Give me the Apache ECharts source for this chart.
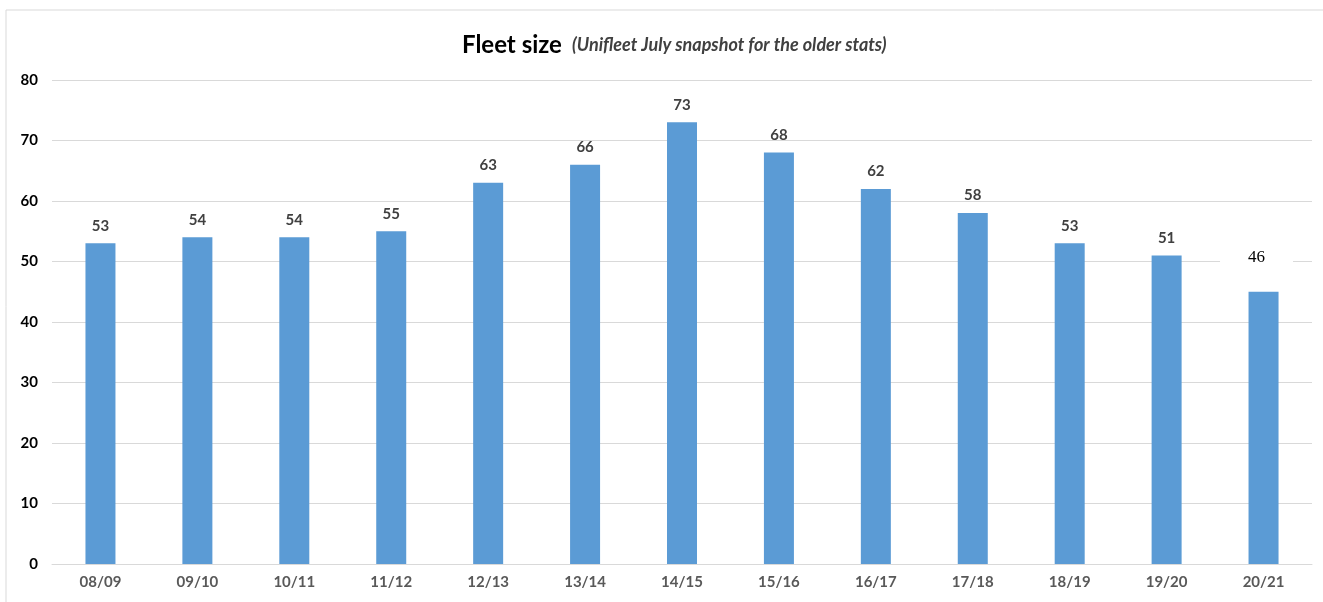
<!DOCTYPE html>
<html><head><meta charset="utf-8">
<script src="https://cdn.jsdelivr.net/npm/echarts@6/dist/echarts.min.js"></script>
<style>html,body{margin:0;padding:0;background:#fff}#c{width:1323px;height:602px}</style>
</head><body><div id="c"></div>
<script>
const categories = ['08/09','09/10','10/11','11/12','12/13','13/14','14/15','15/16','16/17','17/18','18/19','19/20','20/21'];
const fleetSize = [53,54,54,55,63,66,73,68,62,58,53,51,45];
const barLabels = ['53','54','54','55','63','66','73','68','62','58','53','51','46'];
const yTicks = [0,10,20,30,40,50,60,70,80];

const chart = echarts.init(document.getElementById('c'));
const font = 'Lato, "Open Sans", sans-serif';
const data = fleetSize.map((v,i)=>{
  const d = {value:v};
  if (i === fleetSize.length-1) {
    d.label = {
      fontFamily:'"Liberation Serif", "DejaVu Serif", serif', fontWeight:'normal', color:'#000', fontSize:17,
      backgroundColor:'#fff', padding:[2,28,2,28], offset:[-7,-14]
    };
  }
  return d;
});
chart.setOption({
  animation:false,
  graphic:[{type:'rect',shape:{x:6,y:10,width:1330,height:600},style:{fill:'none',stroke:'#d9d9d9',lineWidth:1},silent:true}],
  title:{
    text:'{a|Fleet size}  {b|(Unifleet July snapshot for the older stats)}',
    left:457, top:28,
    textStyle:{rich:{
      a:{fontFamily:font,fontWeight:'bold',fontSize:24,color:'#000'},
      b:{fontFamily:font,fontStyle:'italic',fontSize:18,color:'#404040'}
    }}
  },
  grid:{left:52,right:11,top:80,bottom:38},
  xAxis:{type:'category',data:categories,
    axisLine:{lineStyle:{color:'#d9d9d9'}},axisTick:{show:false},
    axisLabel:{fontFamily:font,fontWeight:'bold',fontSize:15,color:'#595959',margin:11}},
  yAxis:{type:'value',min:yTicks[0],max:yTicks[yTicks.length-1],interval:10,
    axisLine:{show:false},axisTick:{show:false},
    splitLine:{lineStyle:{color:'#d9d9d9',width:1}},
    axisLabel:{fontFamily:font,fontWeight:'bold',fontSize:15,color:'#000',margin:14}},
  series:[{type:'bar',data:data,barWidth:30,itemStyle:{color:'#5b9bd5'},
    label:{show:true,position:'top',distance:10,fontFamily:font,fontWeight:'bold',fontSize:15,color:'#404040',
      formatter:p=>barLabels[p.dataIndex]}}]
});
</script></body></html>
